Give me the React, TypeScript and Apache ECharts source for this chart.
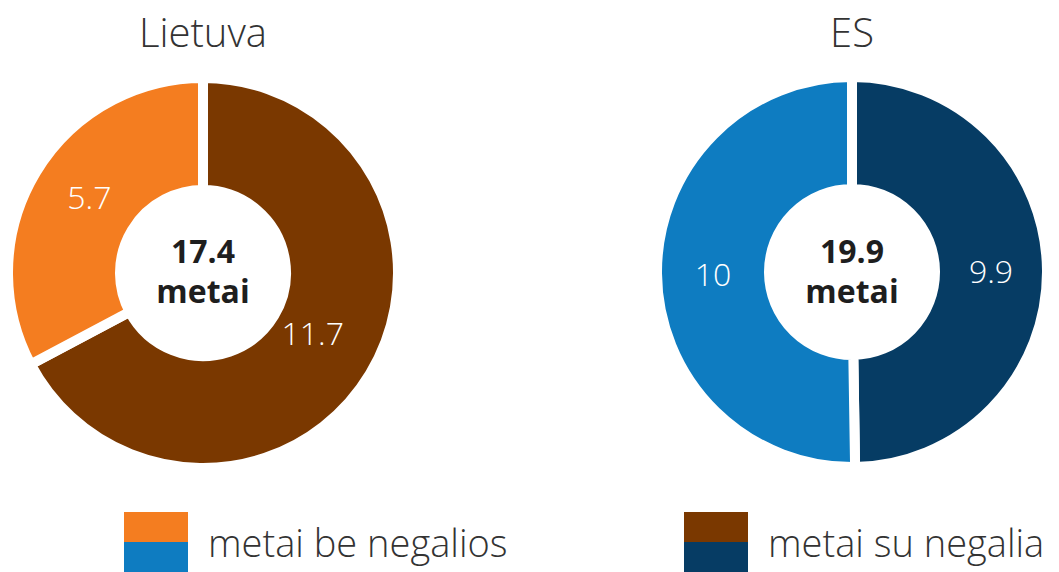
import React, { useEffect, useRef } from "react";
import * as echarts from "echarts";

const categories = ["metai be negalios", "metai su negalia"];
const regions = ["Lietuva", "ES"];
const lietuvaValues = [5.7, 11.7];
const esValues = [10, 9.9];
const totals = ["17.4", "19.9"];
const centerUnit = "metai";
const lietuvaColors = ["#F47D20", "#7A3800"];
const esColors = ["#0E7CC1", "#063C64"];

const FONT = "'Open Sans', sans-serif";

export default function App() {
  const ref = useRef<HTMLDivElement>(null);
  useEffect(() => {
    if (!ref.current) return;
    const chart = echarts.init(ref.current, null, { renderer: "svg" });
    const centers: [number, number][] = [
      [203, 273],
      [852, 272],
    ];
    // per-slice label nudges [su negalia, be negalios]
    const labelOffsets: [number, number][][] = [
      [[-12, -14], [8, -3]],
      [[-3, 0], [3, 0]],
    ];
    const mkPie = (idx: number, values: number[], colors: string[]) => ({
      type: "pie",
      name: regions[idx],
      center: centers[idx],
      radius: [83, 195],
      startAngle: 90,
      clockwise: true,
      silent: true,
      label: {
        show: true,
        position: "inside",
        color: "#ffffff",
        fontFamily: FONT,
        fontSize: 32,
        fontWeight: 300,
        formatter: (p: any) => String(p.value),
      },
      labelLine: { show: false },
      itemStyle: { borderColor: "#ffffff", borderWidth: 10 },
      // clockwise from top: "su negalia" first, then "be negalios"
      data: [
        {
          name: categories[1],
          value: values[1],
          itemStyle: { color: colors[1] },
          label: { offset: labelOffsets[idx][0] },
        },
        {
          name: categories[0],
          value: values[0],
          itemStyle: { color: colors[0] },
          label: { offset: labelOffsets[idx][1] },
        },
      ],
    });

    const legendItems = [
      { x: 124, top: lietuvaColors[0], bottom: esColors[0], text: categories[0], tx: 208 },
      { x: 684, top: lietuvaColors[1], bottom: esColors[1], text: categories[1], tx: 768 },
    ];
    const graphics: any[] = [];
    regions.forEach((r, i) => {
      graphics.push({
        type: "text",
        x: centers[i][0],
        y: 31,
        style: {
          text: r,
          fill: "#333333",
          font: `300 40px ${FONT}`,
          align: "center",
          verticalAlign: "middle",
        },
      });
      graphics.push({
        type: "text",
        x: centers[i][0],
        y: 250,
        style: {
          text: totals[i],
          fill: "#1e1e1e",
          font: `bold 32px ${FONT}`,
          align: "center",
          verticalAlign: "middle",
        },
      });
      graphics.push({
        type: "text",
        x: centers[i][0],
        y: 290,
        style: {
          text: centerUnit,
          fill: "#1e1e1e",
          font: `bold 32px ${FONT}`,
          align: "center",
          verticalAlign: "middle",
        },
      });
    });
    legendItems.forEach((l) => {
      graphics.push({ type: "rect", shape: { x: l.x, y: 512, width: 64, height: 30 }, style: { fill: l.top } });
      graphics.push({ type: "rect", shape: { x: l.x, y: 542, width: 64, height: 30 }, style: { fill: l.bottom } });
      graphics.push({
        type: "text",
        x: l.tx,
        y: 542,
        style: {
          text: l.text,
          fill: "#333333",
          font: `300 38px ${FONT}`,
          align: "left",
          verticalAlign: "middle",
        },
      });
    });

    chart.setOption({
      animation: false,
      backgroundColor: "#ffffff",
      series: [mkPie(0, lietuvaValues, lietuvaColors), mkPie(1, esValues, esColors)],
      graphic: graphics,
    });
    return () => chart.dispose();
  }, []);
  return <div ref={ref} style={{ width: 1059, height: 572, position: "absolute", left: 0, top: 0 }} />;
}
